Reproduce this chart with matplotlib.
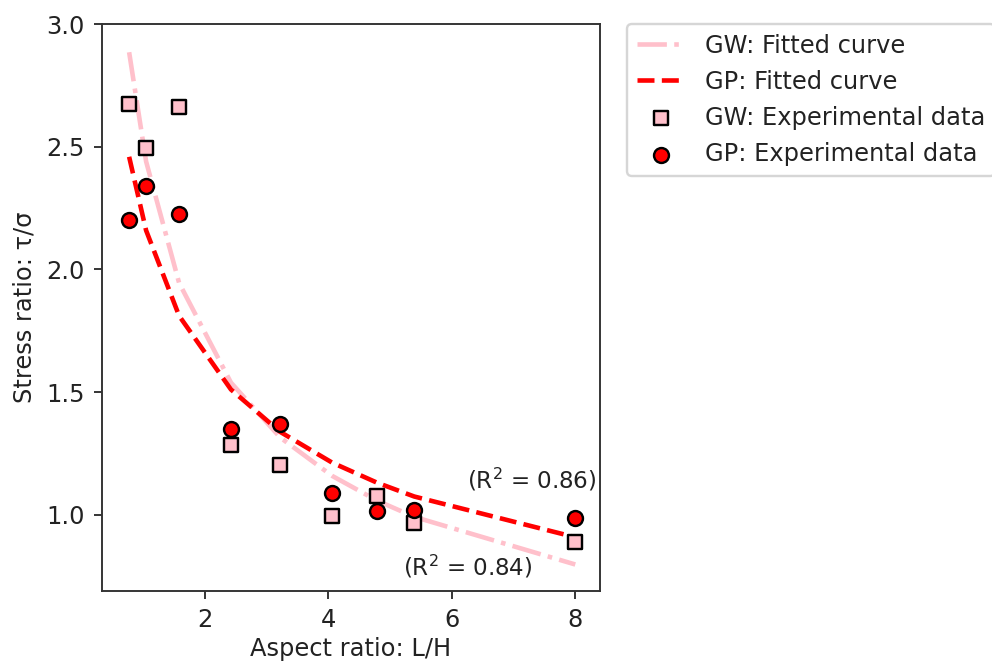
import matplotlib
matplotlib.use("Agg")
import matplotlib.pyplot as plt

# Aspect ratios (L/H) of the tested specimens
aspect_ratio = [0.77, 1.045, 1.58, 2.42, 3.22, 4.06, 4.79, 5.39, 8.0]

# Measured stress ratios
gw_measured = [2.675, 2.496, 2.66, 1.285, 1.203, 0.996, 1.077, 0.967, 0.89]
gp_measured = [2.203, 2.341, 2.224, 1.350, 1.370, 1.089, 1.016, 1.020, 0.988]

# Fitted power-law values at the same aspect ratios
gw_fitted = [2.885, 2.44, 1.945, 1.539, 1.315, 1.159, 1.058, 0.992, 0.798]
gp_fitted = [2.459, 2.159, 1.811, 1.511, 1.338, 1.213, 1.131, 1.075, 0.909]

gw_r2 = 0.84
gp_r2 = 0.86

plt.rcParams["font.size"] = 10
plt.rcParams["text.color"] = "#222222"
plt.rcParams["xtick.labelcolor"] = "#222222"
plt.rcParams["ytick.labelcolor"] = "#222222"
plt.rcParams["axes.labelcolor"] = "#222222"
plt.rcParams["axes.edgecolor"] = "#333333"
plt.rcParams["xtick.color"] = "#333333"
plt.rcParams["ytick.color"] = "#333333"

DPI = 174
fig = plt.figure(figsize=(992 / DPI, 663 / DPI), dpi=DPI)
ax = fig.add_axes([0.1028, 0.1086, 0.502, 0.8552])

ax.plot(aspect_ratio, gw_fitted, linestyle="-.", color="pink", lw=1.9,
        label="GW: Fitted curve", zorder=2)
ax.plot(aspect_ratio, gp_fitted, linestyle="--", color="red", lw=1.9,
        label="GP: Fitted curve", zorder=2)
ax.scatter(aspect_ratio, gw_measured, marker="s", s=38, color="pink",
           edgecolors="black", linewidths=1.0,
           label="GW: Experimental data", zorder=3)
ax.scatter(aspect_ratio, gp_measured, marker="o", s=38, color="red",
           edgecolors="black", linewidths=1.0,
           label="GP: Experimental data", zorder=3)

ax.text(7.30, 1.143, f"(R$^2$ = {gp_r2:.2f})", ha="center", va="center",
        fontsize=9.5)
ax.text(6.26, 0.788, f"(R$^2$ = {gw_r2:.2f})", ha="center", va="center",
        fontsize=9.5)

ax.set_xlim(0.33, 8.40)
ax.set_ylim(0.69, 3.0)
ax.set_xticks([2, 4, 6, 8])
ax.set_yticks([1.0, 1.5, 2.0, 2.5, 3.0])
ax.set_xlabel("Aspect ratio: L/H", labelpad=2)
ax.set_ylabel("Stress ratio: τ/σ")

ax.legend(bbox_to_anchor=(1.055, 1), loc="upper left", borderaxespad=0,
          scatterpoints=1)

fig.savefig("out.png", dpi=DPI)
